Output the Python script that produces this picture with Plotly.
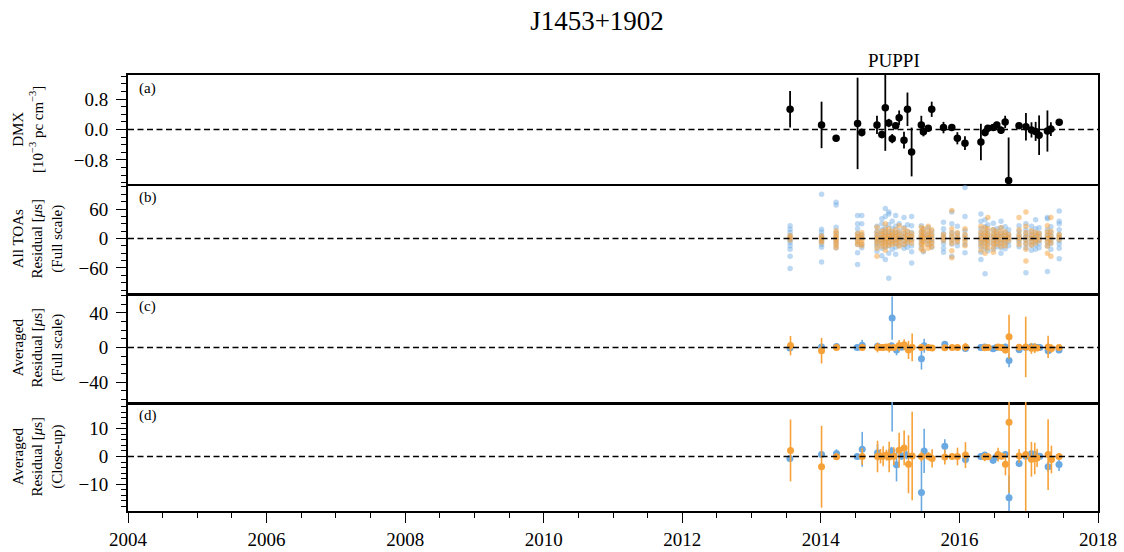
import plotly.graph_objects as go
from plotly.subplots import make_subplots

FONT = "Liberation Serif"
BLUE = "#6BA9E2"
ORANGE = "#F7A239"

# ---- DMX time series (panel a) ----
dmx_year = [2013.556, 2014.01, 2014.22, 2014.53, 2014.59, 2014.81, 2014.88, 2014.93,
            2014.98, 2015.03, 2015.08, 2015.13, 2015.20, 2015.25, 2015.31, 2015.45,
            2015.48, 2015.55, 2015.60, 2015.77, 2015.89, 2015.97, 2016.08, 2016.31,
            2016.37, 2016.41, 2016.49, 2016.54, 2016.60, 2016.66, 2016.71, 2016.86,
            2016.96, 2017.04, 2017.10, 2017.15, 2017.27, 2017.32, 2017.44]
dmx_val = [0.53, 0.12, -0.23, 0.16, -0.08, 0.12, -0.13, 0.57,
           0.17, -0.24, 0.10, 0.31, -0.28, 0.53, -0.59, 0.12,
           -0.06, 0.03, 0.53, 0.05, 0.05, -0.23, -0.36, -0.33,
           -0.08, 0.03, 0.05, 0.12, -0.02, 0.20, -1.34, 0.10,
           0.07, -0.01, -0.05, -0.15, -0.04, 0.01, 0.19]
dmx_err = [0.48, 0.61, 0.07, 1.20, 0.10, 0.24, 0.10, 1.13,
           0.11, 0.12, 0.09, 0.19, 0.22, 0.44, 0.64, 0.24,
           0.12, 0.05, 0.20, 0.15, 0.05, 0.16, 0.18, 0.48,
           0.10, 0.07, 0.05, 0.08, 0.10, 0.16, 1.13, 0.07,
           0.36, 0.20, 0.25, 0.52, 0.54, 0.18, 0.07]

# ---- All TOA residuals (panel b), microseconds, grouped by observing epoch ----
toa_epoch = dmx_year
toa_blue = [
    [26, 19, 12, 5, 1, -3, -8, -15, -22, -36, -61],
    [90, 19, 13, 6, 2, -2, -6, -12, -18, -48],
    [74, 68, 23, 12, 4, -3, -10, -19],
    [47, 30, 20, 10, 3, -4, -12, -29, -53],
    [47, 30, 8, 1, -12, -19],
    [25, 15, 8, 2, -3, -9, -16, -26],
    [40, 30, 18, 9, 3, -4, -10, -20, -35],
    [61, 45, 22, 12, 5, -2, -8, -18, -43],
    [54, 50, 28, 14, 6, 0, -7, -15, -30, -81],
    [35, 20, 10, 3, -3, -10, -22],
    [47, 25, 12, 4, -2, -9, -18, -32],
    [30, 16, 7, 1, -5, -14],
    [43, 22, 10, 3, -4, -12, -20],
    [28, 14, 5, -2, -9, -18],
    [45, 26, 12, 4, -3, -15, -27, -50],
    [26, 14, 5, -2, -10, -19],
    [18, 9, 2, -5, -27],
    [22, 10, 3, -4, -12],
    [15, 6, -1, -8, -18],
    [33, 20, 10, 3, -3, -10, -20, -28],
    [54, 30, 12, 4, -3, -11, -36],
    [25, 10, 2, -6, -15],
    [104, 45, 16, 6, -1, -12, -29],
    [50, 35, 20, 10, 3, -3, -9, -17, -28, -43],
    [38, 24, 12, 4, -2, -9, -20, -72],
    [28, 16, 7, 1, -5, -13, -25],
    [31, 18, 8, 2, -4, -11, -22],
    [20, 11, 4, -2, -9, -17],
    [35, 22, 10, 3, -3, -10, -19, -30],
    [24, 12, 4, -3, -11, -21],
    [18, 8, 1, -6, -15],
    [26, 15, 6, 0, -7, -17],
    [30, 18, 9, 3, -3, -10, -19, -70],
    [25, 14, 6, 0, -6, -14, -24],
    [38, 20, 9, 2, -5, -13, -22],
    [22, 11, 4, -3, -10, -19],
    [43, 40, 18, 8, 1, -6, -15, -67],
    [24, 12, 4, -3, -10, -22],
    [56, 35, 30, 18, 8, 2, -4, -11, -20, -41],
]
toa_orange = [
    [6, 2, -3],
    [5, 1, -4, -8],
    [16, 10, 5, 1, -3, -8, -13, -19],
    [10, 4, -1, -7, -12],
    [12, 6, 1, -4, -10, -15],
    [23, 12, 5, 0, -5, -11, -20, -36],
    [15, 8, 2, -3, -9, -16],
    [30, 18, 9, 3, -2, -8, -15, -24],
    [20, 10, 4, -1, -7, -14],
    [14, 7, 1, -5, -12],
    [18, 9, 3, -3, -10],
    [26, 12, 5, -1, -8, -16],
    [20, 10, 3, -4, -12],
    [15, 6, 0, -7],
    [10, 4, -2, -9],
    [23, 14, 6, 1, -5, -12, -22],
    [20, 12, 5, 0, -6, -14, -25],
    [25, 15, 7, 2, -4, -11, -20],
    [18, 9, 3, -3, -10, -17],
    [8, 2, -4],
    [57, 20, 10, 3, -3, -10, -25, -39],
    [12, 5, -1, -7],
    [20, 8, 1, -6, -15],
    [25, 14, 6, 0, -6, -14, -24],
    [22, 12, 5, -1, -8, -17, -30],
    [43, 20, 10, 3, -3, -10, -20],
    [18, 9, 3, -3, -10, -18, -28],
    [15, 7, 1, -5, -12],
    [22, 12, 5, -1, -8, -16],
    [14, 6, 0, -7, -15],
    [8, 2, -4],
    [43, 18, 8, 2, -4, -12],
    [54, 25, 12, 4, -3, -11, -22, -46],
    [16, 7, 1, -6, -14],
    [12, 5, -2, -9],
    [10, 3, -4],
    [26, 14, 6, 0, -7, -16, -30],
    [43, 15, 6, -1, -9, -36],
    [8, 3, -2],
]

# ---- Epoch-averaged residuals (panels c and d), microseconds ----
avg_blue_year = [2013.553, 2014.010, 2014.226, 2014.524, 2014.597, 2014.818, 2015.020,
                 2015.029, 2015.092, 2015.164, 2015.236, 2015.452, 2015.491, 2015.789,
                 2016.087, 2016.308, 2016.366, 2016.486, 2016.534, 2016.664, 2016.716,
                 2016.861, 2016.957, 2017.039, 2017.087, 2017.121, 2017.160, 2017.280,
                 2017.438]
avg_blue_val = [-0.7, 0.7, 1.1, 0.0, 2.6, 1.4, 2.0,
                34.0, -3.0, 0.2, 0.5, -13.0, 2.0, 3.7,
                -1.1, 0.0, 0.5, -1.4, -0.1, 0.7, -14.9,
                -2.5, 0.1, 1.0, 0.7, 0.1, 0.1, -3.7,
                -2.9]
avg_blue_err = [1.0, 1.0, 1.5, 1.0, 6.3, 3.0, 1.5,
                25.0, 6.0, 1.5, 1.5, 12.5, 8.0, 2.5,
                1.5, 1.0, 1.0, 1.2, 1.0, 1.0, 8.0,
                1.2, 1.0, 1.2, 1.0, 1.0, 1.0, 1.8,
                2.3]

avg_orange_year = [2013.562, 2014.010, 2014.226, 2014.597, 2014.818, 2014.861, 2014.899,
                   2014.947, 2014.986, 2015.053, 2015.130, 2015.202, 2015.265, 2015.318,
                   2015.452, 2015.553, 2015.606, 2015.789, 2015.895, 2015.972, 2016.087,
                   2016.366, 2016.414, 2016.558, 2016.606, 2016.664, 2016.716, 2016.861,
                   2016.957, 2017.039, 2017.087, 2017.121, 2017.280, 2017.328, 2017.438]
avg_orange_val = [2.2, -3.7, -0.1, 0.0, 0.0, 0.1, 0.1,
                  0.5, -0.2, 0.1, 2.3, 3.1, -2.8, 0.2,
                  0.0, 0.1, -0.7, -0.2, 0.0, 0.0, 0.5,
                  -0.2, -0.1, 0.7, 0.1, -2.8, 12.4, 0.2,
                  0.7, -1.0, -0.7, -0.5, 0.7, -1.1, 0.0]
avg_orange_err = [11.2, 14.8, 1.2, 3.0, 5.7, 2.6, 3.6,
                  2.0, 5.5, 3.2, 6.3, 6.3, 10.5, 16.0,
                  1.8, 1.5, 3.3, 2.7, 1.2, 3.2, 4.7,
                  1.5, 1.2, 2.5, 1.2, 4.0, 25.5, 2.5,
                  35.0, 6.3, 5.7, 3.3, 12.8, 5.0, 1.2]

# ---- axis settings ----
x_range = [2004, 2018]
y_ranges = [[-1.43, 1.43], [-111, 111], [-63, 63], [-19.7, 19.7]]
y_tickvals = [[-0.8, 0.0, 0.8], [-60, 0, 60], [-40, 0, 40], [-10, 0, 10]]
y_ticktext = [["−0.8", "0.0", "0.8"], ["−60", "0", "60"], ["−40", "0", "40"], ["−10", "0", "10"]]
y_minor = [0.2, 15, 10, 2]
y_titles = ["DMX<br>[10<sup>−3</sup> pc cm<sup>−3</sup>]",
            "All TOAs<br>Residual [<i>μ</i>s]<br>(Full scale)",
            "Averaged<br>Residual [<i>μ</i>s]<br>(Full scale)",
            "Averaged<br>Residual [<i>μ</i>s]<br>(Close-up)"]
y_title_x = [-0.1036, -0.0938, -0.0938, -0.0938]
panel_tags = ["(a)", "(b)", "(c)", "(d)"]

fig = make_subplots(rows=4, cols=1, shared_xaxes=True, vertical_spacing=0)

# panel (a): DMX
fig.add_trace(go.Scatter(
    x=dmx_year, y=dmx_val, mode="markers",
    marker=dict(color="black", size=7.5),
    error_y=dict(type="data", array=dmx_err, color="black", thickness=1.8, width=0),
    cliponaxis=False, showlegend=False), row=1, col=1)

# panel (b): every TOA, translucent
bx, by, ox, oy = [], [], [], []
for t, vals in zip(toa_epoch, toa_blue):
    bx += [t] * len(vals)
    by += vals
for t, vals in zip(toa_epoch, toa_orange):
    ox += [t] * len(vals)
    oy += vals
fig.add_trace(go.Scatter(x=bx, y=by, mode="markers",
                         marker=dict(color=BLUE, size=5.5, opacity=0.45, line=dict(width=0)),
                         showlegend=False), row=2, col=1)
fig.add_trace(go.Scatter(x=ox, y=oy, mode="markers",
                         marker=dict(color=ORANGE, size=5.5, opacity=0.5, line=dict(width=0)),
                         showlegend=False), row=2, col=1)

# panels (c) and (d): epoch averages, same data at two scales
for r in (3, 4):
    fig.add_trace(go.Scatter(
        x=avg_blue_year, y=avg_blue_val, mode="markers",
        marker=dict(color=BLUE, size=7),
        error_y=dict(type="data", array=avg_blue_err, color=BLUE, thickness=1.6, width=0),
        showlegend=False), row=r, col=1)
    fig.add_trace(go.Scatter(
        x=avg_orange_year, y=avg_orange_val, mode="markers",
        marker=dict(color=ORANGE, size=7),
        error_y=dict(type="data", array=avg_orange_err, color=ORANGE, thickness=1.6, width=0),
        showlegend=False), row=r, col=1)

tick_font = dict(family=FONT, size=19, color="black")

for r in range(1, 5):
    fig.add_hline(y=0, line=dict(color="black", width=1.3, dash="6px,3.5px"), row=r, col=1)
    fig.update_yaxes(
        row=r, col=1, range=y_ranges[r - 1],
        tickmode="array", tickvals=y_tickvals[r - 1], ticktext=y_ticktext[r - 1],
        ticks="outside", ticklen=10, tickwidth=1.2, tickcolor="black",
        minor=dict(dtick=y_minor[r - 1], tick0=0, ticks="outside", ticklen=5,
                   tickwidth=1, tickcolor="black"),
        showline=True, linewidth=2, linecolor="black", mirror=True,
        showgrid=False, zeroline=False, tickfont=tick_font, ticklabelstandoff=4,
        automargin=False)
    fig.update_xaxes(
        row=r, col=1, range=x_range, showline=True, linewidth=2.2 if r in (1, 4) else 2.6,
        linecolor="black", mirror=(r == 1), showgrid=False, zeroline=False,
        ticks="outside" if r == 4 else "", showticklabels=(r == 4),
        dtick=2, tick0=2004, ticklen=10, tickwidth=1.2, tickcolor="black",
        minor=dict(dtick=0.5, tick0=2004, ticks="outside" if r == 4 else "",
                   ticklen=5, tickwidth=1, tickcolor="black"),
        tickfont=tick_font, ticklabelstandoff=0, automargin=False)

    suffix = "" if r == 1 else str(r)
    fig.add_annotation(text=panel_tags[r - 1], xref=f"x{suffix} domain", yref=f"y{suffix} domain",
                       x=0.009, y=0.875, xanchor="left", yanchor="middle", showarrow=False,
                       font=dict(family=FONT, size=15, color="black"))
    fig.add_annotation(text=y_titles[r - 1], xref="paper", yref=f"y{suffix} domain",
                       x=y_title_x[r - 1], y=0.5, xanchor="center", yanchor="middle",
                       textangle=-90, showarrow=False, align="center",
                       font=dict(family=FONT, size=15, color="black"))

fig.add_annotation(text="PUPPI", xref="x", yref="paper", x=2015.05, y=1.034,
                   xanchor="center", yanchor="middle", showarrow=False,
                   font=dict(family=FONT, size=19, color="black"))

fig.update_layout(
    width=1124, height=552,
    margin=dict(l=128, r=26, t=75, b=41, autoexpand=False),
    paper_bgcolor="white", plot_bgcolor="white",
    title=dict(text="J1453+1902", x=597 / 1124, xref="container", y=1 - 21 / 552, yref="container",
               xanchor="center", yanchor="middle",
               font=dict(family=FONT, size=27, color="black")),
    showlegend=False,
)

fig.write_html("out.html")
